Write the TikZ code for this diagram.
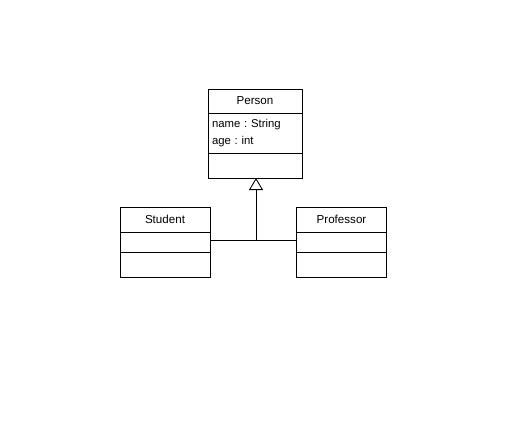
\documentclass[tikz,border=0pt]{standalone}
\usepackage{fontspec}
\setmainfont{Liberation Sans}
\frenchspacing
\usetikzlibrary{arrows.meta, positioning}
\tikzstyle{line} = [line width=0.65pt, draw=black]
\tikzstyle{classname} = [rectangle, draw=black, line width=0.65pt, fill=white, text centered, inner sep=0pt, outer sep=0pt, font=\fontsize{8.7}{12.75}\selectfont]
\tikzstyle{members} = [rectangle, draw=black, line width=0.65pt, fill=white, align=left, inner xsep=3pt, inner ysep=0pt, outer sep=0pt, font=\fontsize{8.5}{12.75}\selectfont]
\tikzstyle{inherit} = [line width=0.65pt, -{Triangle[open, length=9pt, width=10.5pt]}]

\begin{document}
\begin{tikzpicture}[x=0.75pt, y=-0.75pt]
        \useasboundingbox (0,0) rectangle (506,428);

        % Superclass
        \node (person) [classname, minimum width=70.5pt, minimum height=18pt] at (255,101) {Person};
        \node (personattr) [members, below=0pt of person, text width=64.5pt, minimum height=30pt] {name : String\\age : int};
        \node (personops) [members, below=0pt of personattr, minimum width=70.5pt, minimum height=18.75pt] {};

        % Subclasses
        \node (student) [classname, minimum width=67.5pt, minimum height=18.75pt] at (165,219.5) {Student};
        \node (studentattr) [members, below=0pt of student, minimum width=67.5pt, minimum height=15pt] {};
        \node (studentops) [members, below=0pt of studentattr, minimum width=67.5pt, minimum height=18.75pt] {};

        \node (professor) [classname, minimum width=67.5pt, minimum height=18.75pt] at (341.5,219.5) {Professor};
        \node (professorattr) [members, below=0pt of professor, minimum width=67.5pt, minimum height=15pt] {};
        \node (professorops) [members, below=0pt of professorattr, minimum width=67.5pt, minimum height=18.75pt] {};

        % Generalisation
        \coordinate (join) at (256,240);
        \draw [line] (studentattr.east |- join) -- (professorattr.west |- join);
        \draw [inherit] (join) -- (join |- personops.south);
\end{tikzpicture}
\end{document}
